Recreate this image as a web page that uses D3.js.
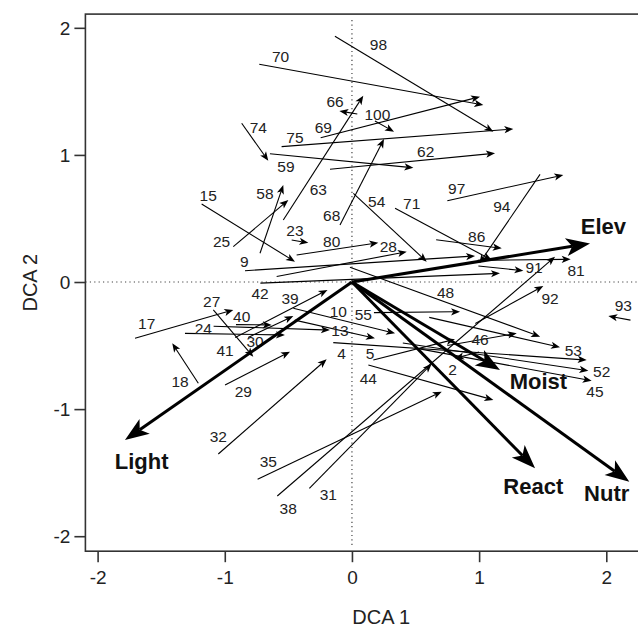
<!DOCTYPE html>
<html>
<head>
<meta charset="utf-8">
<script src="https://cdn.jsdelivr.net/npm/d3@7"></script>
<style>
  body { margin: 0; background: #fff; }
  text { font-family: "Liberation Sans", Arial, sans-serif; }
</style>
</head>
<body>
<svg id="chart" width="638" height="630"></svg>
<script>
// sample shifts: id, x start, y start, x end, y end, label x, label y (DCA units)
const samples = [
  ["98", -0.134, 1.934, 1.112, 1.183, 0.208, 1.871],
  ["70", -0.729, 1.713, 1.033, 1.393, -0.561, 1.773],
  ["66", 0.042, 1.322, -0.099, 1.345, -0.133, 1.419],
  ["100", 0.181, 1.267, 0.331, 1.183, 0.200, 1.319],
  ["69", -0.246, 1.135, 1.007, 1.458, -0.225, 1.214],
  ["75", -0.553, 1.065, 1.269, 1.204, -0.448, 1.136],
  ["74", -0.867, 1.249, -0.658, 0.954, -0.736, 1.214],
  ["59", -0.645, 1.009, 0.483, 0.899, -0.519, 0.907],
  ["62", -0.173, 0.887, 1.125, 1.013, 0.580, 1.030],
  ["58", -0.723, 0.226, -0.540, 0.763, -0.684, 0.699],
  ["25", -0.933, 0.278, -0.500, 0.645, -1.025, 0.317],
  ["63", -0.540, 0.488, 0.089, 1.466, -0.265, 0.724],
  ["68", -0.094, 0.448, 0.252, 1.125, -0.159, 0.527],
  ["97", 0.750, 0.640, 1.662, 0.842, 0.824, 0.737],
  ["94", 1.479, 0.847, 1.002, 0.147, 1.178, 0.592],
  ["15", -1.182, 0.614, -0.448, 0.160, -1.130, 0.684],
  ["54", 0.011, 0.698, 0.588, 0.160, 0.195, 0.632],
  ["71", 0.339, 0.580, 1.099, 0.173, 0.470, 0.614],
  ["23", -0.474, 0.330, -0.343, 0.309, -0.448, 0.409],
  ["80", -0.435, 0.212, 0.207, 0.309, -0.159, 0.317],
  ["28", -0.592, 0.044, 0.431, 0.238, 0.286, 0.278],
  ["86", 0.662, 0.332, 1.178, 0.265, 0.981, 0.356],
  ["9", -0.841, 0.089, 0.968, 0.205, -0.847, 0.160],
  ["91", 0.994, 0.126, 1.348, 0.089, 1.432, 0.116],
  ["81", 0.990, 0.170, 1.720, 0.179, 1.762, 0.094],
  ["42", -0.720, -0.009, 1.164, 0.068, -0.723, -0.089],
  ["39", -0.461, -0.207, 0.339, -0.404, -0.487, -0.128],
  ["48", -0.016, 0.117, 1.480, -0.430, 0.736, -0.082],
  ["92", 0.970, -0.326, 1.505, -0.031, 1.558, -0.128],
  ["93", 2.190, -0.300, 2.016, -0.268, 2.134, -0.181],
  ["27", -1.090, -0.220, -0.776, -0.588, -1.103, -0.150],
  ["17", -1.706, -0.443, -0.933, -0.220, -1.614, -0.328],
  ["40", -0.912, -0.335, -0.631, -0.338, -0.867, -0.273],
  ["24", -1.313, -0.404, -0.527, -0.417, -1.169, -0.364],
  ["30", -0.816, -0.436, -0.461, -0.268, -0.762, -0.469],
  ["41", -0.918, -0.436, -0.192, -0.063, -0.998, -0.535],
  ["10", -0.450, -0.300, 0.181, -0.443, -0.107, -0.234],
  ["55", 0.173, -0.241, 0.850, -0.234, 0.089, -0.252],
  ["13", -1.088, -0.348, -0.173, -0.378, -0.094, -0.378],
  ["4", -0.147, -0.477, 1.846, -0.614, -0.081, -0.561],
  ["5", 0.168, -0.614, 0.810, -0.450, 0.142, -0.561],
  ["44", 0.129, -0.653, 1.112, -0.928, 0.129, -0.758],
  ["46", 0.750, -0.500, 1.296, -0.404, 1.007, -0.451],
  ["53", 0.608, -0.278, 1.636, -0.514, 1.741, -0.535],
  ["52", 0.400, -0.480, 1.859, -0.698, 1.964, -0.706],
  ["45", 0.500, -0.520, 1.885, -0.777, 1.911, -0.863],
  ["2", 1.000, -0.550, 0.810, -0.600, 0.792, -0.692],
  ["18", -1.208, -0.797, -1.413, -0.482, -1.352, -0.785],
  ["29", -0.998, -0.811, -0.487, -0.548, -0.854, -0.863],
  ["32", -1.051, -1.353, -0.199, -0.608, -1.051, -1.217],
  ["35", -0.742, -1.552, 0.706, -0.863, -0.658, -1.414],
  ["38", -0.587, -1.684, 1.597, 0.199, -0.501, -1.781],
  ["31", -0.335, -1.623, 0.627, -0.643, -0.186, -1.668]
];

// environmental vectors (fitted), with label positions
const envNames = ["Elev", "Light", "Moist", "React", "Nutr"];
const envX = [1.872, -1.785, 1.164, 1.440, 2.181];
const envY = [0.304, -1.243, -0.692, -1.466, -1.571];
const envLabelX = [1.977, -1.654, 1.466, 1.426, 2.003];
const envLabelY = [0.435, -1.414, -0.784, -1.610, -1.662];

const xTicks = [-2, -1, 0, 1, 2];
const yTicks = [-2, -1, 0, 1, 2];

const svg = d3.select("#chart");
const box = { left: 85.4, top: 14.1, right: 677, bottom: 551.2 };

const x = d3.scaleLinear().domain([-2.096, 2.556]).range([box.left, box.right]);
const y = d3.scaleLinear().domain([-2.118, 2.108]).range([box.bottom, box.top]);

svg.append("rect").attr("width", 638).attr("height", 630).attr("fill", "#fff");

// dotted zero lines
svg.append("line")
  .attr("x1", box.left).attr("x2", box.right)
  .attr("y1", y(0)).attr("y2", y(0))
  .attr("stroke", "#444").attr("stroke-width", 1.2)
  .attr("stroke-dasharray", "1.2,3.2");
svg.append("line")
  .attr("x1", x(0)).attr("x2", x(0))
  .attr("y1", box.top + 6).attr("y2", box.bottom - 6)
  .attr("stroke", "#444").attr("stroke-width", 1.2)
  .attr("stroke-dasharray", "1.2,3.2");

// arrow helper: line plus filled swept-back head
function arrow(g, x0, y0, x1, y1, len, half, width) {
  const dx = x1 - x0, dy = y1 - y0;
  const d = Math.hypot(dx, dy);
  const ux = dx / d, uy = dy / d;
  const bx = x1 - ux * len, by = y1 - uy * len;
  const nx = x1 - ux * len * 0.75, ny = y1 - uy * len * 0.75;
  g.append("line")
    .attr("x1", x0).attr("y1", y0)
    .attr("x2", nx).attr("y2", ny)
    .attr("stroke", "#000").attr("stroke-width", width);
  const pts = [
    [x1, y1],
    [bx - uy * half, by + ux * half],
    [nx, ny],
    [bx + uy * half, by - ux * half]
  ];
  g.append("polygon")
    .attr("points", pts.map((p) => p.join(",")).join(" "))
    .attr("fill", "#000");
}

const plot = svg.append("g");

samples.forEach((s) => {
  arrow(plot, x(s[1]), y(s[2]), x(s[3]), y(s[4]), 9, 3.6, 1.1);
});

plot.selectAll(".slab")
  .data(samples)
  .join("text")
  .attr("class", "slab")
  .attr("x", (d) => x(d[5]))
  .attr("y", (d) => y(d[6]))
  .attr("text-anchor", "middle")
  .attr("dominant-baseline", "central")
  .attr("font-size", 15.5)
  .attr("fill", "#222")
  .text((d) => d[0]);

envNames.forEach((n, i) => {
  arrow(plot, x(0), y(0), x(envX[i]), y(envY[i]), 24, 9, 3);
  plot.append("text")
    .attr("x", x(envLabelX[i]))
    .attr("y", y(envLabelY[i]))
    .attr("text-anchor", "middle")
    .attr("dominant-baseline", "central")
    .attr("font-size", 22)
    .attr("font-weight", "bold")
    .attr("fill", "#111")
    .text(n);
});

// frame
svg.append("rect")
  .attr("x", box.left).attr("y", box.top)
  .attr("width", box.right - box.left).attr("height", box.bottom - box.top)
  .attr("fill", "none").attr("stroke", "#333").attr("stroke-width", 1.6);

// axes
const xAxis = svg.append("g")
  .attr("transform", `translate(0,${box.bottom})`)
  .call(d3.axisBottom(x).tickValues(xTicks).tickSize(11).tickPadding(8).tickFormat(d3.format("d")));
const yAxis = svg.append("g")
  .attr("transform", `translate(${box.left},0)`)
  .call(d3.axisLeft(y).tickValues(yTicks).tickSize(11).tickPadding(4).tickFormat(d3.format("d")));
[xAxis, yAxis].forEach((a) => {
  a.select(".domain").remove();
  a.selectAll(".tick line").attr("stroke", "#333").attr("stroke-width", 1.6);
  a.selectAll("text")
    .attr("font-family", "Liberation Sans, Arial, sans-serif")
    .attr("font-size", 19)
    .attr("fill", "#222");
});
yAxis.selectAll("text").attr("dy", "0.35em");
// R-style minus sign is a hyphen
svg.selectAll(".tick text").text((d) => String(d));

svg.append("text")
  .attr("x", (box.left + box.right) / 2)
  .attr("y", 617)
  .attr("text-anchor", "middle")
  .attr("dominant-baseline", "central")
  .attr("font-size", 20)
  .attr("fill", "#222")
  .text("DCA 1");

svg.append("text")
  .attr("transform", `translate(30,${(box.top + box.bottom) / 2}) rotate(-90)`)
  .attr("text-anchor", "middle")
  .attr("dominant-baseline", "central")
  .attr("font-size", 20)
  .attr("fill", "#222")
  .text("DCA 2");
</script>
</body>
</html>
